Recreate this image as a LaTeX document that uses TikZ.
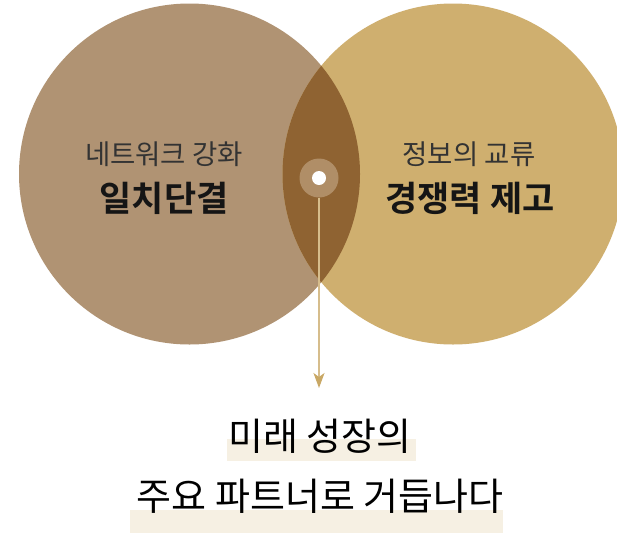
\documentclass[tikz,border=0pt]{standalone}
\usepackage{fontspec}
\setmainfont{Noto Sans CJK KR}
\newfontfamily\kobold{Noto Sans CJK KR Bold}
\usetikzlibrary{arrows.meta}
\definecolor{leftc}{HTML}{B09373}
\definecolor{rightc}{HTML}{CFAF6F}
\definecolor{lensc}{HTML}{8F6332}
\definecolor{dotc}{HTML}{B08E67}
\definecolor{linec}{HTML}{D6BD8C}
\definecolor{tipc}{HTML}{C9A865}
\definecolor{hlc}{HTML}{F6F0E3}
\definecolor{smalltxt}{HTML}{333333}
\definecolor{boldtxt}{HTML}{151515}
\tikzset{
  smalllabel/.style={text=smalltxt, font=\fontsize{27.5}{32}\selectfont, inner sep=0pt},
  boldlabel/.style={text=boldtxt, font=\kobold\fontsize{35}{40}\selectfont, inner sep=0pt},
  bottomlabel/.style={text=black, font=\fontsize{38}{44}\selectfont, inner sep=0pt},
  hl/.style={fill=hlc, draw=none},
}
\begin{document}
\begin{tikzpicture}[x=1pt,y=-1pt]
\useasboundingbox (0,0) rectangle (617,533);
\fill[white] (0,0) rectangle (617,533);
% circles
\fill[leftc] (189.5,174) circle[radius=170.5];
\fill[rightc] (453,174) circle[radius=170.5];
\begin{scope}
  \clip (189.5,174) circle[radius=170.5];
  \fill[lensc] (453,174) circle[radius=170.5];
\end{scope}
% connector
\coordinate (tip) at (319,388);
\node[circle, fill=dotc, minimum size=39pt, inner sep=0pt] (hub) at (319,178) {};
\draw[linec, line width=1.4pt, -{Stealth[length=15pt,width=11pt,inset=4pt,color=tipc]}] (hub.south) -- (tip);
\node[circle, fill=white, minimum size=14pt, inner sep=0pt] (dot) at (319,178) {};
% circle labels
\node[smalllabel] (l1) at (164,154) {네트워크 강화};
\node[boldlabel] (l2) at (164,198) {일치단결};
\node[smalllabel] (r1) at (469,154) {정보의 교류};
\node[boldlabel] (r2) at (470,198) {경쟁력 제고};
% highlights
\fill[hl] (227,439) rectangle (416,461);
\fill[hl] (130,510) rectangle (503,533);
\node[bottomlabel] (b1) at (320,436) {미래 성장의};
\node[bottomlabel] (b2) at (320,496) {주요 파트너로 거듭나다};
\end{tikzpicture}
\end{document}
